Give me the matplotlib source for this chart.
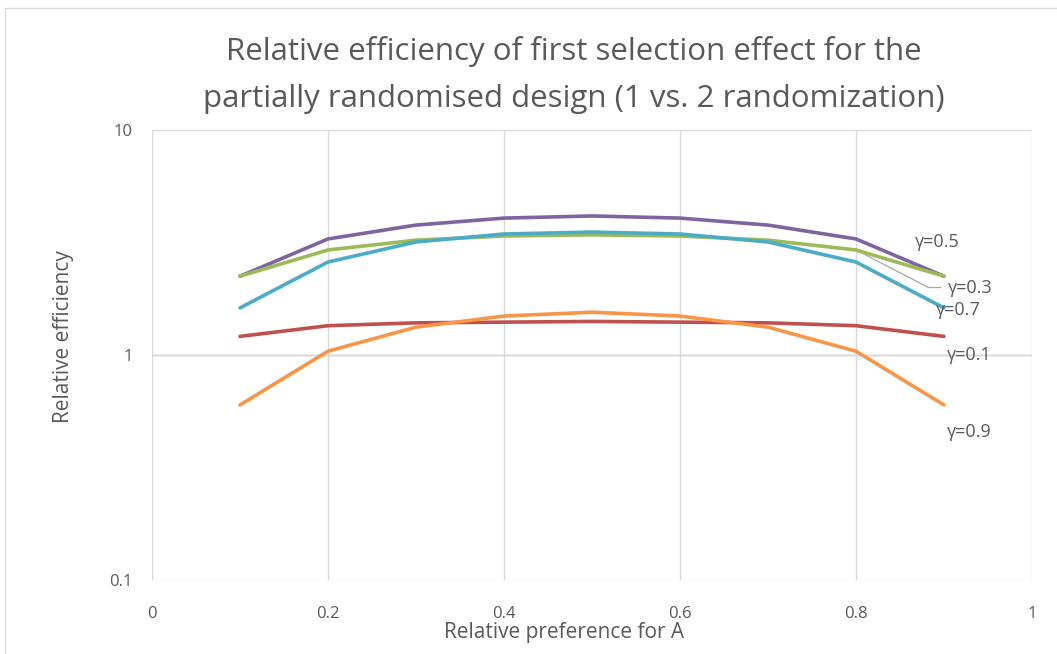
import matplotlib
matplotlib.use("Agg")
import matplotlib.pyplot as plt
from matplotlib.patches import Rectangle

plt.rcParams['font.family'] = ['Open Sans', 'DejaVu Sans']

pref = [0.1, 0.2, 0.3, 0.4, 0.5, 0.6, 0.7, 0.8, 0.9]
eff_g05 = [2.24, 3.28, 3.78, 4.06, 4.15, 4.06, 3.78, 3.28, 2.24]
eff_g03 = [2.24, 2.93, 3.24, 3.38, 3.42, 3.38, 3.24, 2.93, 2.24]
eff_g07 = [1.62, 2.59, 3.18, 3.45, 3.52, 3.45, 3.18, 2.59, 1.62]
eff_g01 = [1.21, 1.35, 1.39, 1.40, 1.41, 1.40, 1.39, 1.35, 1.21]
eff_g09 = [0.60, 1.04, 1.33, 1.49, 1.55, 1.49, 1.33, 1.04, 0.60]

series = [
    ("γ=0.5", eff_g05, "#8064A2"),
    ("γ=0.3", eff_g03, "#9BBB59"),
    ("γ=0.7", eff_g07, "#4BACC6"),
    ("γ=0.1", eff_g01, "#C0504D"),
    ("γ=0.9", eff_g09, "#F79646"),
]

# label positions (x, y) next to the line ends
label_pos = {
    "γ=0.5": (0.867, 3.18),
    "γ=0.3": (0.905, 1.98),
    "γ=0.7": (0.891, 1.58),
    "γ=0.1": (0.903, 1.0),
    "γ=0.9": (0.903, 0.455),
}

txt = "#595959"
fig = plt.figure(figsize=(10.57, 6.54), dpi=100)
ax = fig.add_axes([0.1438, 0.1131, 0.8325, 0.6881])

# chart border
fig.patches.append(Rectangle((5 / 1057, -0.1), 1.2, 1 - 8 / 654 + 0.1,
                             transform=fig.transFigure, fill=False,
                             edgecolor="#D9D9D9", linewidth=1.0))

for name, vals, col in series:
    ax.plot(pref, vals, color=col, linewidth=2.6, solid_capstyle="round", zorder=3)
    lx, ly = label_pos[name]
    ax.text(lx, ly, name, color=txt, fontsize=13, va="center", ha="left", zorder=4)

# leader line for γ=0.3
ax.plot([0.8, 0.882], [eff_g03[7], 2.0], color="#A6A6A6", linewidth=0.9, zorder=2)
ax.plot([0.882, 0.895], [2.0, 2.0], color="#A6A6A6", linewidth=0.9, zorder=2)

ax.set_yscale("log")
ax.set_xlim(0, 1)
ax.set_ylim(0.1, 10)
ax.set_xticks([0, 0.2, 0.4, 0.6, 0.8, 1])
ax.set_xticklabels(["0", "0.2", "0.4", "0.6", "0.8", "1"])
ax.set_yticks([0.1, 1, 10])
ax.set_yticklabels(["0.1", "1", "10"])
ax.minorticks_off()
ax.tick_params(length=0, labelsize=12, colors=txt)
ax.tick_params(axis="x", pad=19)
ax.tick_params(axis="y", pad=14)
for s in ax.spines.values():
    s.set_visible(False)
ax.grid(True, color="#D9D9D9", linewidth=1.0, zorder=0)
ax.axhline(1, color="#BFBFBF", linewidth=1.0, zorder=1)

ax.set_xlabel("Relative preference for A", fontsize=15, color=txt, va="center")
ax.xaxis.set_label_coords(0.468, -0.116)
ax.set_ylabel("Relative efficiency", fontsize=15, color=txt, va="center")
ax.yaxis.set_label_coords(-0.101, 0.542)
fig.suptitle("Relative efficiency of first selection effect for the\n"
             "partially randomised design (1 vs. 2 randomization)",
             fontsize=22.5, color=txt, y=0.945, x=0.543, linespacing=1.72)

fig.savefig("out.png", dpi=100)
plt.close(fig)
